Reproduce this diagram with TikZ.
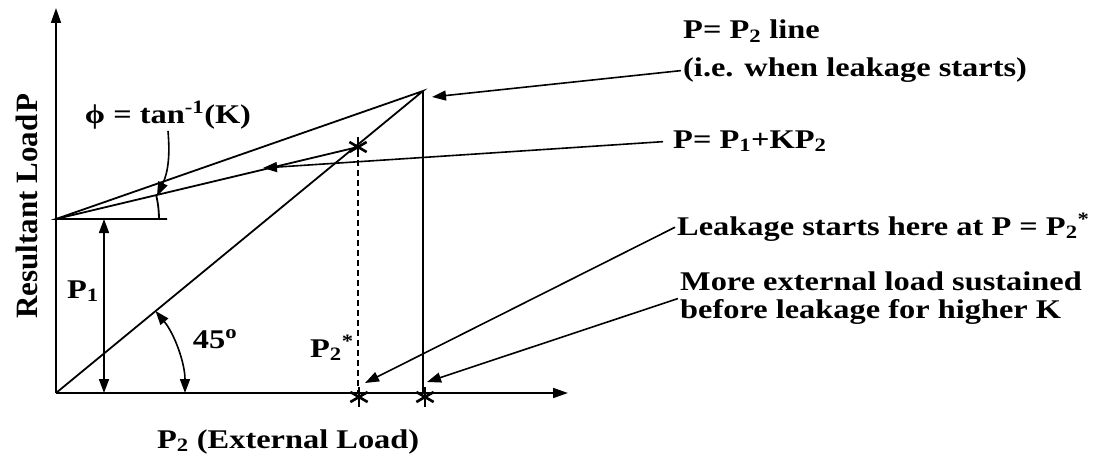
\documentclass[tikz,border=0pt]{standalone}
\usepackage{fontspec}
\setmainfont{Liberation Serif}[FakeStretch=1.2]
\newfontfamily\axisfont{Liberation Serif}
\usetikzlibrary{arrows.meta, positioning, calc}

\begin{document}
\begin{tikzpicture}[
        x=1pt, y=1pt,
        every node/.style={font=\fontsize{27}{28}\selectfont\bfseries, inner sep=2pt},
        axis/.style={draw, line width=1.8pt, -{Stealth[length=15pt, width=10pt, inset=0pt]}},
        line/.style={draw, line width=1.8pt},
        leader/.style={draw, line width=1.6pt, -{Stealth[length=14pt, width=10pt, inset=0pt]}},
        dimline/.style={draw, line width=1.6pt, {Stealth[length=14pt, width=10pt, inset=0pt]}-{Stealth[length=14pt, width=10pt, inset=0pt]}},
        note/.style={anchor=base west},
        leakmark/.pic={\foreach \a in {90,30,150} \draw[line width=2.6pt] (\a:10) -- (\a+180:10);}
    ]
        \useasboundingbox (0,0) rectangle (1096,-460);

        % Key points
        \coordinate (O) at (56,-393);
        \coordinate (ytop) at (56,-8);
        \coordinate (xend) at (568,-393);
        \coordinate (P1pt) at (56,-219);
        \coordinate (P1end) at (167,-219);
        \coordinate (A) at (423,-91);
        \coordinate (Abot) at (423,-393);
        \coordinate (S) at (358,-147);
        \coordinate (Stop) at (358,-160);
        \coordinate (Sbot) at (358,-393);

        % Axes
        \draw[axis] (O) -- (ytop);
        \draw[axis] (O) -- (xend);
        \node[anchor=base, rotate=90, font=\axisfont\fontsize{31}{31}\selectfont\bfseries] (ylabel) at (37,-206) {Resultant Load\kern2pt P};
        \node[note] (xlabel) at (155,-448) {P\textsubscript{2} (External Load)};

        % Load lines
        \draw[line] (O) -- (A) -- (P1pt) -- (P1end);
        \draw[line] (A) -- (Abot);
        \draw[line] (P1pt) -- (S);
        \draw[line, line width=1.2pt, dash pattern=on 6pt off 4pt] (Stop) -- (Sbot);

        % Star marks
        \pic at (S) {leakmark};
        \pic at (359,-397) {leakmark};
        \pic at (425,-397) {leakmark};

        % Angles and P1
        \draw[line] (P1pt) ++(0:103) arc[start angle=0, end angle=13.2, radius=103];
        \draw[dimline] (O) ++(0:129) arc[start angle=0, end angle=39.5, radius=129];
        \coordinate (P1a) at (104,-219);
        \coordinate (P1b) at (104,-393);
        \draw[dimline] (P1a) -- (P1b);
        \node[note] (p1lbl) at (65,-298) {P\textsubscript{1}};
        \node[note] (p2lbl) at (308,-357) {P\textsubscript{2}\textsuperscript{*}};
        \node[anchor=base] (angle45) at (215,-348) {45\textsuperscript{o}};
        \node[anchor=base] (philbl) at (168,-123) {ϕ = tan\textsuperscript{-1}(K)};
        \coordinate (phitip) at (157,-196);
        \draw[leader] (philbl.south) to[out=-85, in=65] (phitip);

        % Notes on the right
        \node[note] (lblA) at (681,-39) {P= P\textsubscript{2} line};
        \node[note] (lblB) at (681,-77) {(i.e. when leakage starts)};
        \node[note] (lblC) at (671,-148) {P= P\textsubscript{1}+KP\textsubscript{2}};
        \node[note] (lblD) at (675,-235) {Leakage starts here at P = P\textsubscript{2}\textsuperscript{*}};
        \node[anchor=north west, align=left] (lblE) at (678,-270) {More external load sustained\\before leakage for higher K};

        \coordinate (tipA) at (432,-97);
        \coordinate (tipC) at (263,-168);
        \coordinate (tipD) at (365,-383);
        \coordinate (tipE) at (427,-382);

        \draw[leader] (lblB.west) -- (tipA);
        \draw[leader, shorten <=8pt] (lblC.west) -- (tipC);
        \draw[leader] (lblD.west) -- (tipD);
        \draw[leader] (lblE.west) -- (tipE);

    \end{tikzpicture}
\end{document}
